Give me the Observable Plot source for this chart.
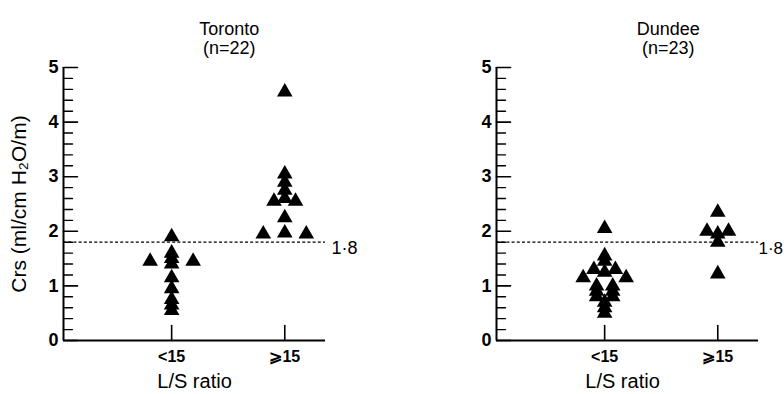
<!DOCTYPE html>
<html><head><meta charset="utf-8">
<script src="https://cdn.jsdelivr.net/npm/d3@7"></script>
<script src="https://cdn.jsdelivr.net/npm/@observablehq/plot@0.6"></script>
<style>
body{margin:0;background:#fff;}
#row{display:flex;width:784px;height:394px;overflow:hidden}
#row svg{overflow:visible;flex:none}
</style></head><body><div id="row"></div>
<script>
// ---- data ----
const categories = ["<15", "⩾15"];
const yMajorTicks = [0, 1, 2, 3, 4, 5];
const threshold = 1.8;
const thresholdLabel = "1·8";
const yLabel = "Crs (ml/cm H₂O/m)";
const xLabel = "L/S ratio";
const panelTitles = ["Toronto\n(n=22)", "Dundee\n(n=23)"];

// values (Crs) and side-by-side slot of each triangle within its column
const torontoLowValues  = [1.9, 1.6, 1.5, 1.4, 1.45, 1.45, 1.15, 0.95, 0.75, 0.65, 0.55];
const torontoLowSlots   = [0, 0, 0, 0, -2, 2, 0, 0, 0, 0, 0];
const torontoHighValues = [4.55, 3.05, 2.9, 2.75, 2.6, 2.55, 2.55, 2.25, 1.97, 1.95, 1.95];
const torontoHighSlots  = [0, 0, 0, 0, 0, -1, 1, 0, 0, -2, 2];
const dundeeLowValues   = [2.05, 1.55, 1.45, 1.3, 1.3, 1.25, 1.15, 1.15, 1.0, 1.0, 0.9, 0.9, 0.8, 0.8, 0.7, 0.6, 0.5];
const dundeeLowSlots    = [0, 0, 0, -1, 1, 0, -2, 2, -0.75, 0.75, -0.75, 0.75, -0.75, 0.75, 0, 0, 0];
const dundeeHighValues  = [2.35, 2.0, 2.0, 1.95, 1.8, 1.22];
const dundeeHighSlots   = [0, -1, 1, 0, 0, 0];

// ---- layout ----
const FONT = '"Liberation Sans", Arial, Helvetica, sans-serif';
const xDomain = [0.044, 2.36];
const slotWidth = 0.095;
const minorTicks = d3.range(0, 5.0001, 0.2).map(v => +v.toFixed(1)).filter(v => !yMajorTicks.includes(v));

const tickShape = {draw(context, l) { context.moveTo(0, 0); context.lineTo(0, -l); }};

function rowsFor(lowV, lowS, highV, highS) {
  const rows = [];
  lowV.forEach((v, i) => rows.push({pos: 1, slot: lowS[i], value: v}));
  highV.forEach((v, i) => rows.push({pos: 2, slot: highS[i], value: v}));
  return rows;
}

function panel({rows, title, marginLeft, marginRight, showYLabel, titleDx, xLabelDx, thrDx, thrSize}) {
  const mid = d3.mean(categories, (d, i) => i + 1);
  return Plot.plot({
    width: 392, height: 394,
    marginTop: 67, marginBottom: 54, marginLeft, marginRight,
    x: {domain: xDomain, axis: null},
    y: {domain: [0, 5], axis: null},
    style: {fontFamily: FONT, background: "white", color: "black", overflow: "visible"},
    marks: [
      Plot.ruleY([threshold], {strokeDasharray: "3,2.2", strokeWidth: 1.2}),
      Plot.text([threshold], {y: d => d, text: () => thresholdLabel, frameAnchor: "right", textAnchor: "start", dx: thrDx, dy: 6, fontSize: thrSize}),
      // axis lines
      Plot.ruleX([xDomain[0]], {strokeWidth: 2}),
      Plot.ruleY([0], {strokeWidth: 2}),
      // y ticks (inward)
      Plot.vector(yMajorTicks, {y: d => d, frameAnchor: "left", rotate: 90, length: 14, anchor: "start", shape: tickShape, strokeWidth: 1.6}),
      Plot.vector(minorTicks, {y: d => d, frameAnchor: "left", rotate: 90, length: 9, anchor: "start", shape: tickShape, strokeWidth: 1.4}),
      Plot.text(yMajorTicks, {y: d => d, text: d => String(d), frameAnchor: "left", textAnchor: "end", dx: -5, fontWeight: "bold", fontSize: 18}),
      // x ticks (inward)
      Plot.vector(categories, {x: (d, i) => i + 1, frameAnchor: "bottom", rotate: 0, length: 15, anchor: "start", shape: tickShape, strokeWidth: 1.6}),
      Plot.text(categories, {x: (d, i) => i + 1, text: d => d, frameAnchor: "bottom", lineAnchor: "top", dy: 10, fontWeight: "bold", fontSize: 16}),
      Plot.text([xLabel], {text: d => d, frameAnchor: "bottom", textAnchor: "middle", lineAnchor: "top", dy: 33, dx: xLabelDx, fontSize: 20}),
      showYLabel ? Plot.text([yLabel], {text: d => d, frameAnchor: "left", textAnchor: "middle", rotate: -90, dx: -44, fontSize: 21}) : null,
      Plot.text([title], {x: () => mid, text: d => d, frameAnchor: "top", textAnchor: "middle", lineAnchor: "bottom", dy: -14, dx: titleDx, fontSize: 18, lineHeight: 1.05}),
      // data
      Plot.dot(rows, {x: d => d.pos + d.slot * slotWidth, y: "value", symbol: "triangle", r: 5.8, fill: "black", stroke: "none"})
    ]
  });
}

const row = document.getElementById("row");
row.append(panel({
  rows: rowsFor(torontoLowValues, torontoLowSlots, torontoHighValues, torontoHighSlots),
  title: panelTitles[0], marginLeft: 63, marginRight: 67, showYLabel: true, titleDx: 1, xLabelDx: 0, thrDx: 6, thrSize: 18
}));
row.append(panel({
  rows: rowsFor(dundeeLowValues, dundeeLowSlots, dundeeHighValues, dundeeHighSlots),
  title: panelTitles[1], marginLeft: 104, marginRight: 26, showYLabel: false, titleDx: 7, xLabelDx: -5, thrDx: 0, thrSize: 17
}));
</script></body></html>
